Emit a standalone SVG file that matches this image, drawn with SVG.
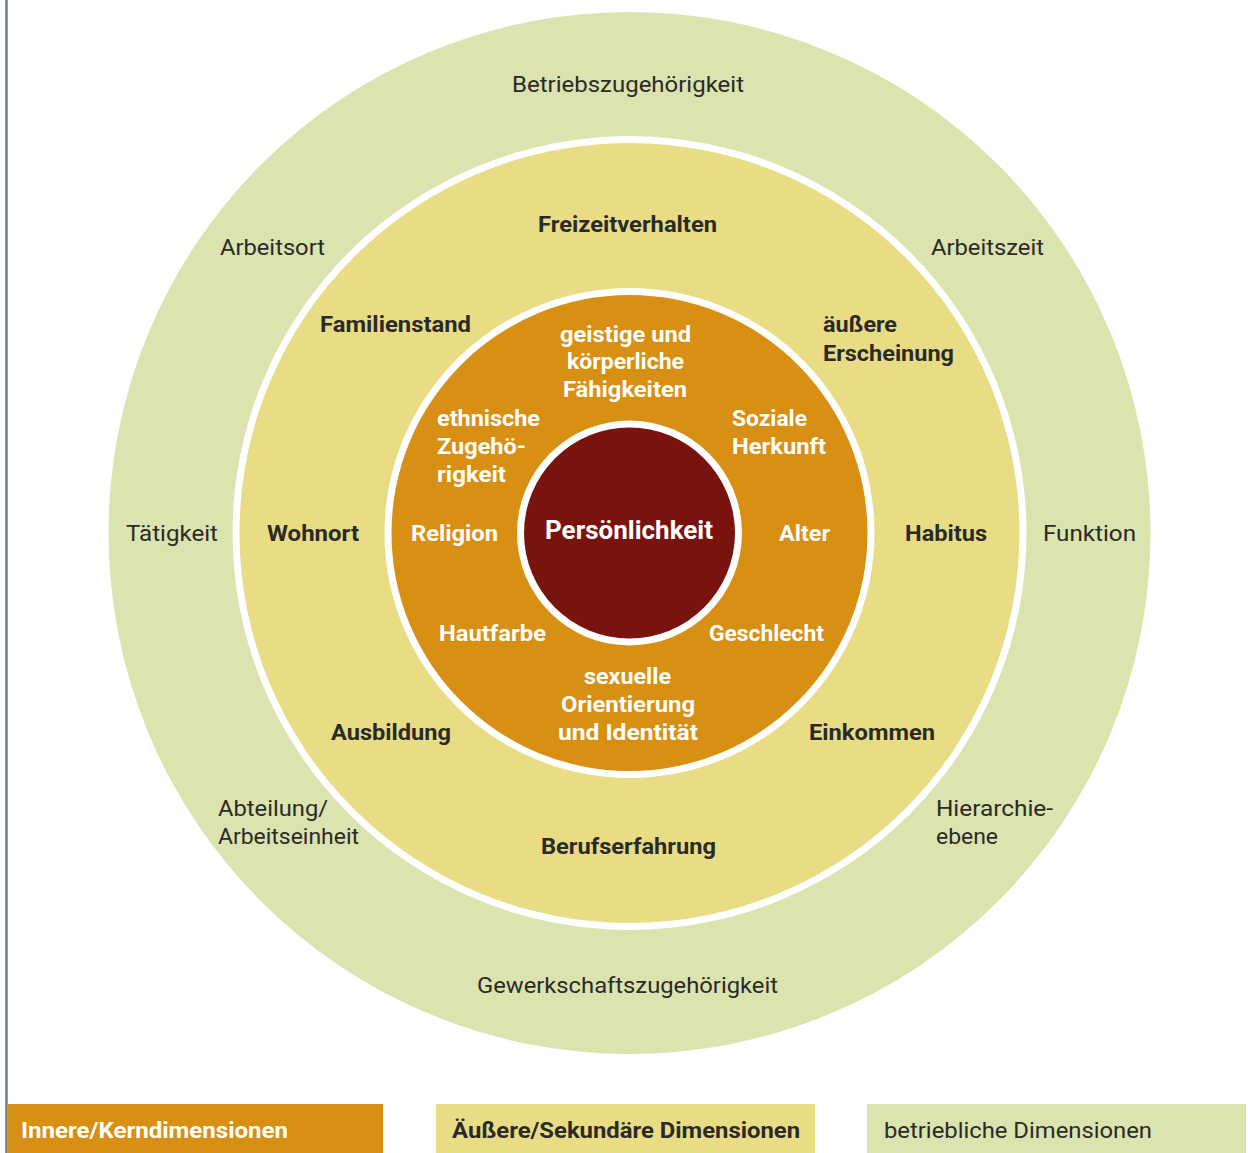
<svg xmlns="http://www.w3.org/2000/svg" width="1248" height="1153" viewBox="0 0 1248 1153">
  <style>
    text { font-family: Roboto, "Noto Sans", "DejaVu Sans", sans-serif; font-size: 22px; }
    .org { fill: #2b2a28; font-weight: 400; }
    .sec { fill: #2b2a28; font-weight: 700; }
    .core { fill: #ffffff; font-weight: 700; }
    .key { font-weight: 700; font-size: 25px; fill: #ffffff; }
  </style>

  <!-- left margin rule -->
  <line x1="6.5" y1="0" x2="6.5" y2="1153" stroke="#6f7f88" stroke-width="2.5"/>

  <!-- concentric dimension rings -->
  <g id="ring-organisational">
    <circle cx="629.5" cy="533" r="521" fill="#dbe3ae"/>
  </g>
  <g id="ring-secondary">
    <circle cx="629.5" cy="533" r="397" fill="#ffffff"/>
    <circle cx="629.5" cy="533" r="390" fill="#e8dc84"/>
  </g>
  <g id="ring-core">
    <circle cx="629.5" cy="533" r="245" fill="#ffffff"/>
    <circle cx="629.5" cy="533" r="238" fill="#d78f14"/>
  </g>
  <g id="personality">
    <circle cx="629.5" cy="533" r="112.5" fill="#ffffff"/>
    <circle cx="629.5" cy="533" r="105.5" fill="#79130e"/>
    <text class="key" x="545" y="539" textLength="168" lengthAdjust="spacingAndGlyphs">Persönlichkeit</text>
  </g>

  <!-- organisational dimensions -->
  <g id="betriebszugehoerigkeit"><text class="org" x="512" y="92" textLength="232" lengthAdjust="spacingAndGlyphs">Betriebszugehörigkeit</text></g>
  <g id="arbeitsort"><text class="org" x="220" y="255" textLength="105" lengthAdjust="spacingAndGlyphs">Arbeitsort</text></g>
  <g id="arbeitszeit"><text class="org" x="931" y="255" textLength="113" lengthAdjust="spacingAndGlyphs">Arbeitszeit</text></g>
  <g id="taetigkeit"><text class="org" x="126" y="541" textLength="92" lengthAdjust="spacingAndGlyphs">Tätigkeit</text></g>
  <g id="funktion"><text class="org" x="1043" y="541" textLength="93" lengthAdjust="spacingAndGlyphs">Funktion</text></g>
  <g id="abteilung">
    <text class="org" x="218" y="816" textLength="110" lengthAdjust="spacingAndGlyphs">Abteilung/</text>
    <text class="org" x="218" y="844" textLength="141" lengthAdjust="spacingAndGlyphs">Arbeitseinheit</text>
  </g>
  <g id="hierarchieebene">
    <text class="org" x="936" y="816" textLength="117" lengthAdjust="spacingAndGlyphs">Hierarchie-</text>
    <text class="org" x="936" y="844" textLength="62" lengthAdjust="spacingAndGlyphs">ebene</text>
  </g>
  <g id="gewerkschaftszugehoerigkeit"><text class="org" x="477" y="993" textLength="301" lengthAdjust="spacingAndGlyphs">Gewerkschaftszugehörigkeit</text></g>

  <!-- secondary dimensions -->
  <g id="freizeitverhalten"><text class="sec" x="538" y="232" textLength="179" lengthAdjust="spacingAndGlyphs">Freizeitverhalten</text></g>
  <g id="familienstand"><text class="sec" x="320" y="332" textLength="151" lengthAdjust="spacingAndGlyphs">Familienstand</text></g>
  <g id="erscheinung">
    <text class="sec" x="823" y="332" textLength="74" lengthAdjust="spacingAndGlyphs">äußere</text>
    <text class="sec" x="823" y="361" textLength="131" lengthAdjust="spacingAndGlyphs">Erscheinung</text>
  </g>
  <g id="wohnort"><text class="sec" x="267" y="541" textLength="92" lengthAdjust="spacingAndGlyphs">Wohnort</text></g>
  <g id="habitus"><text class="sec" x="905" y="541" textLength="82" lengthAdjust="spacingAndGlyphs">Habitus</text></g>
  <g id="ausbildung"><text class="sec" x="331" y="740" textLength="120" lengthAdjust="spacingAndGlyphs">Ausbildung</text></g>
  <g id="einkommen"><text class="sec" x="809" y="740" textLength="126" lengthAdjust="spacingAndGlyphs">Einkommen</text></g>
  <g id="berufserfahrung"><text class="sec" x="541" y="854" textLength="175" lengthAdjust="spacingAndGlyphs">Berufserfahrung</text></g>

  <!-- core dimensions -->
  <g id="faehigkeiten">
    <text class="core" x="560" y="342" textLength="131" lengthAdjust="spacingAndGlyphs">geistige und</text>
    <text class="core" x="567" y="369" textLength="117" lengthAdjust="spacingAndGlyphs">körperliche</text>
    <text class="core" x="563" y="397" textLength="124" lengthAdjust="spacingAndGlyphs">Fähigkeiten</text>
  </g>
  <g id="ethnie">
    <text class="core" x="437" y="426" textLength="103" lengthAdjust="spacingAndGlyphs">ethnische</text>
    <text class="core" x="437" y="454" textLength="89" lengthAdjust="spacingAndGlyphs">Zugehö-</text>
    <text class="core" x="437" y="482" textLength="69" lengthAdjust="spacingAndGlyphs">rigkeit</text>
  </g>
  <g id="herkunft">
    <text class="core" x="732" y="426" textLength="75" lengthAdjust="spacingAndGlyphs">Soziale</text>
    <text class="core" x="732" y="454" textLength="94" lengthAdjust="spacingAndGlyphs">Herkunft</text>
  </g>
  <g id="religion"><text class="core" x="411" y="541" textLength="87" lengthAdjust="spacingAndGlyphs">Religion</text></g>
  <g id="alter"><text class="core" x="779" y="541" textLength="51" lengthAdjust="spacingAndGlyphs">Alter</text></g>
  <g id="hautfarbe"><text class="core" x="439" y="641" textLength="107" lengthAdjust="spacingAndGlyphs">Hautfarbe</text></g>
  <g id="geschlecht"><text class="core" x="709" y="641" textLength="115" lengthAdjust="spacingAndGlyphs">Geschlecht</text></g>
  <g id="orientierung">
    <text class="core" x="584" y="684" textLength="87" lengthAdjust="spacingAndGlyphs">sexuelle</text>
    <text class="core" x="561" y="712" textLength="134" lengthAdjust="spacingAndGlyphs">Orientierung</text>
    <text class="core" x="558" y="740" textLength="140" lengthAdjust="spacingAndGlyphs">und Identität</text>
  </g>

  <!-- legend -->
  <g id="legend-core">
    <rect x="8" y="1104" width="375" height="49" fill="#d78f14"/>
    <text class="core" x="21" y="1138" textLength="267" lengthAdjust="spacingAndGlyphs">Innere/Kerndimensionen</text>
  </g>
  <g id="legend-secondary">
    <rect x="436" y="1104" width="379" height="49" fill="#e8dc84"/>
    <text class="sec" x="452" y="1138" textLength="348" lengthAdjust="spacingAndGlyphs">Äußere/Sekundäre Dimensionen</text>
  </g>
  <g id="legend-organisational">
    <rect x="867" y="1104" width="379" height="49" fill="#dbe3ae"/>
    <text class="org" x="884" y="1138" textLength="268" lengthAdjust="spacingAndGlyphs">betriebliche Dimensionen</text>
  </g>
</svg>
